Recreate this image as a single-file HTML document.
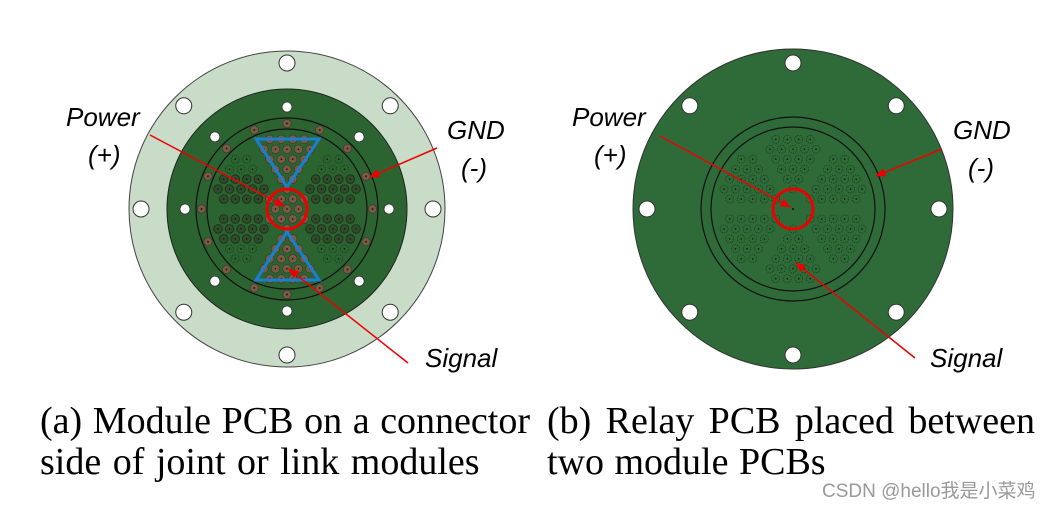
<!DOCTYPE html>
<html><head><meta charset="utf-8"><style>
html,body{margin:0;padding:0;background:#fff;width:1054px;height:509px;overflow:hidden;position:relative}
svg{display:block;position:absolute;left:0;top:0}
.lab{font-family:"Liberation Sans",sans-serif;font-style:italic;font-size:26px;fill:#000}
.cap{position:absolute;font-family:"Liberation Serif",serif;font-size:38px;line-height:41px;color:#000;white-space:nowrap}
.j{text-align:justify;text-align-last:justify}
</style></head><body>
<svg id="s" width="1054" height="509" viewBox="0 0 1054 509" xmlns="http://www.w3.org/2000/svg">
<defs>
<marker id="ah" viewBox="0 0 10 10" refX="9" refY="5" markerWidth="7" markerHeight="7" orient="auto"><path d="M0,1 L10,5 L0,9 z" fill="#e00"/></marker>
</defs>
<circle cx="287" cy="209" r="158" fill="#c8dcc8" stroke="#444" stroke-width="1"/>
<circle cx="287" cy="209" r="120" fill="#2b6431" stroke="#222" stroke-width="1"/>
<circle cx="287" cy="209" r="91" fill="none" stroke="#111" stroke-width="1.2"/>
<circle cx="287" cy="209" r="80" fill="none" stroke="#111" stroke-width="1.2"/>
<g id="L"></g>
<circle cx="793" cy="209" r="160" fill="#2e6b38" stroke="#333" stroke-width="1"/>
<circle cx="793" cy="209" r="92" fill="none" stroke="#111" stroke-width="1.2"/>
<circle cx="793" cy="209" r="82" fill="none" stroke="#111" stroke-width="1.2"/>
<g id="R"></g>
<polygon points="256,139 319,139 287,187" fill="none" stroke="#1a7fd0" stroke-width="3"/>
<polygon points="287,232 256,280 319,280" fill="none" stroke="#1a7fd0" stroke-width="3"/>
<circle cx="287" cy="209" r="20" fill="none" stroke="#e00" stroke-width="3"/>
<circle cx="793" cy="209" r="20" fill="none" stroke="#e00" stroke-width="3"/>
<g stroke="#e00" stroke-width="1.5" fill="none">
<line x1="150" y1="135" x2="284" y2="206" marker-end="url(#ah)"/>
<line x1="437" y1="148" x2="370" y2="177" marker-end="url(#ah)"/>
<line x1="408" y1="363" x2="289" y2="269" marker-end="url(#ah)"/>
<line x1="660" y1="136" x2="790" y2="207" marker-end="url(#ah)"/>
<line x1="942" y1="149" x2="876" y2="176" marker-end="url(#ah)"/>
<line x1="915" y1="358" x2="796" y2="263" marker-end="url(#ah)"/>
</g>
<text class="lab" x="66" y="126">Power</text>
<text class="lab" x="88" y="164">(+)</text>
<text class="lab" x="447" y="139">GND</text>
<text class="lab" x="461" y="177">(-)</text>
<text class="lab" x="425" y="367">Signal</text>
<text class="lab" x="572" y="126">Power</text>
<text class="lab" x="594" y="164">(+)</text>
<text class="lab" x="953" y="139">GND</text>
<text class="lab" x="968" y="177">(-)</text>
<text class="lab" x="930" y="367">Signal</text>
<text x="822" y="497" font-family="Liberation Sans,'Noto Sans CJK SC',sans-serif" font-size="19" fill="#999">CSDN @hello我是小菜鸡</text>
</svg>
<div class="cap j" style="left:40px;top:401px;width:490px">(a) Module PCB on a connector</div>
<div class="cap" style="left:40px;top:442px;word-spacing:2px">side of joint or link modules</div>
<div class="cap j" style="left:547px;top:401px;width:488px">(b) Relay PCB placed between</div>
<div class="cap" style="left:547px;top:442px;word-spacing:1px">two module PCBs</div>
<script>
var NS="http://www.w3.org/2000/svg";
function c(g,x,y,r,a){var e=document.createElementNS(NS,"circle");e.setAttribute("cx",x);e.setAttribute("cy",y);e.setAttribute("r",r);for(var k in a)e.setAttribute(k,a[k]);g.appendChild(e);}
function board(id,cx,cy,left){
 var g=document.getElementById(id);
 for(var i=0;i<8;i++){var a=i*Math.PI/4;c(g,cx+146*Math.sin(a),cy-146*Math.cos(a),8,{fill:"#fff",stroke:"#333","stroke-width":"1"});}
 if(left){
  for(var i=0;i<8;i++){var a=i*Math.PI/4;c(g,cx+102*Math.sin(a),cy-102*Math.cos(a),5,{fill:"#fff",stroke:"#333","stroke-width":".8"});}
  for(var i=0;i<16;i++){var a=i*Math.PI/8;var x=cx+85.5*Math.sin(a),y=cy-85.5*Math.cos(a);c(g,x,y,4.2,{fill:"#7a5a40",stroke:"#333","stroke-width":".6"});c(g,x,y,1,{fill:"#222"});}
 }
 var s=11.5;
 for(var j=-7;j<=7;j++)for(var i=-8;i<=8;i++){
  var x=i*s+(Math.abs(j)%2?s/2:0),y=j*s*0.866;var d=Math.hypot(x,y);
  if(d>72||(d<13&&!left))continue;
  var ang=Math.atan2(x,-y)*180/Math.PI; if(ang<0)ang+=360;
  var sec=Math.round(ang/60)%6; var off=Math.abs(ang-Math.round(ang/60)*60);
  if(off>23&&d>20)continue;
  var X=cx+x,Y=cy+y;
  if(left){
   if(d>1&&d<8)continue;
   var brown=false;
   if(d<20)brown=true;
   else if(sec==0&&y>-70&&y<-22&&Math.abs(x)<(-y-22)*0.66+2)brown=true;
   else if(sec==3&&y<70&&y>22&&Math.abs(x)<(y-22)*0.66+2)brown=true;
   if(brown)c(g,X,Y,4.3,{fill:"#7a5a40",stroke:"#333","stroke-width":".6"});
   else if(Math.abs(y)<32&&Math.abs(x)>20)c(g,X,Y,4.3,{fill:"#2f4d2a",stroke:"#1a2a15","stroke-width":".8"});
   else c(g,X,Y,4,{fill:"none",stroke:"#153015","stroke-width":".6","stroke-dasharray":"1.5,1"});
   c(g,X,Y,.8,{fill:"#111"});
  } else {
   c(g,X,Y,4,{fill:"none",stroke:"#153015","stroke-width":".6","stroke-dasharray":"1.5,1"});
   c(g,X,Y,.8,{fill:"#111"});
  }
 }
 if(!left)c(g,cx,cy,1,{fill:"#111"});
}
board("L",287,209,true);board("R",793,209,false);
</script>
</body></html>
